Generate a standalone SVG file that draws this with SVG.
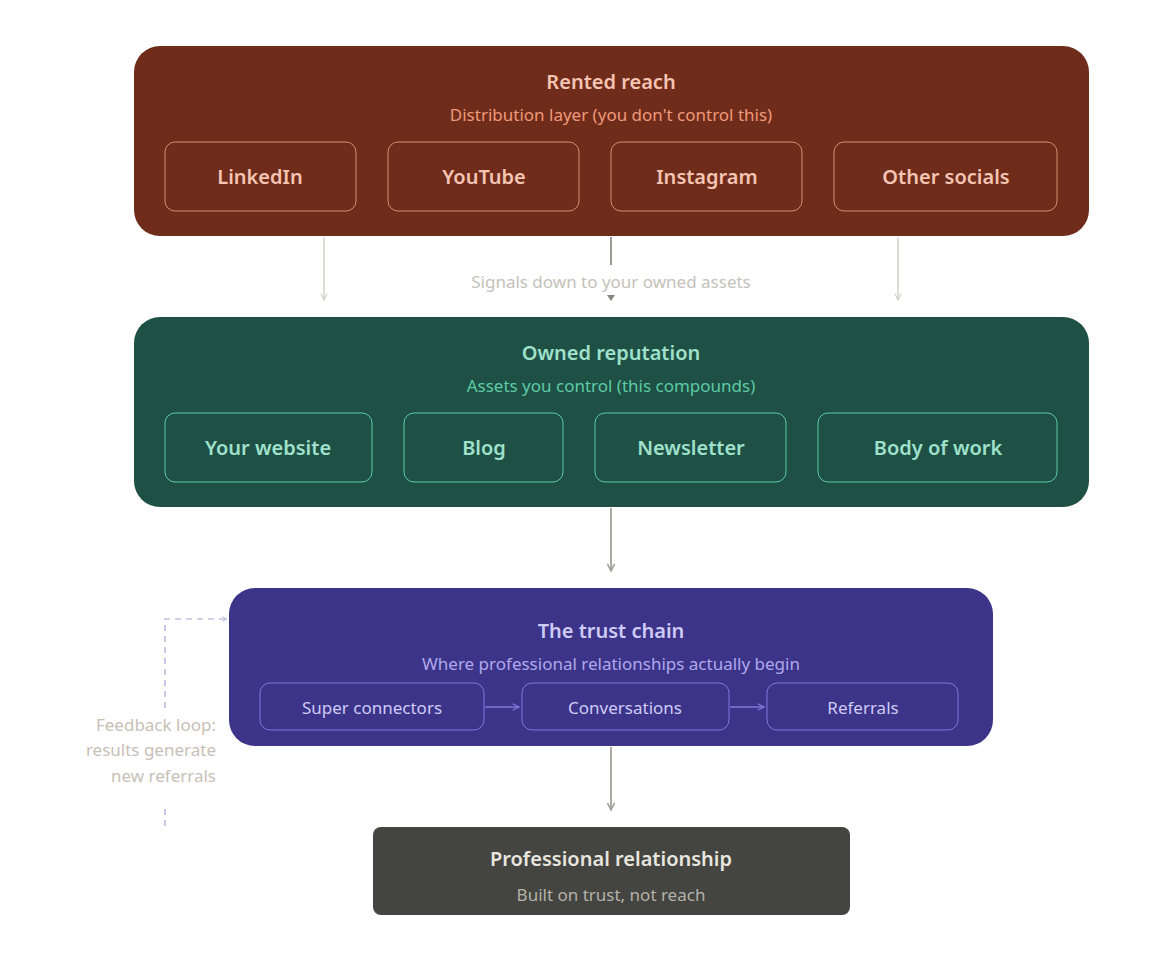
<svg xmlns="http://www.w3.org/2000/svg" width="1163" height="954" viewBox="0 0 1163 954">
<style>
text{font-family:"Noto Sans","Open Sans",sans-serif;text-anchor:middle}
.t{font-size:20px;font-weight:600}
.s{font-size:17px}
.b{font-size:20px;font-weight:600}
.p{font-size:17px}
.ib{fill:none;stroke-width:1}
.arr{stroke:#a3a199;stroke-width:1.8;fill:none}
</style>
<defs>
<marker id="ah" viewBox="0 0 10 10" refX="9" refY="5" markerWidth="9" markerHeight="9" orient="auto" markerUnits="userSpaceOnUse"><path d="M1 1L9 5L1 9" fill="none" stroke="#a3a199" stroke-width="1.8"/></marker>
<marker id="ahl" viewBox="0 0 10 10" refX="9" refY="5" markerWidth="8" markerHeight="8" orient="auto" markerUnits="userSpaceOnUse"><path d="M1 1L9 5L1 9" fill="none" stroke="#d3d1c7" stroke-width="1.5"/></marker>
<marker id="ahp" viewBox="0 0 10 10" refX="9" refY="5" markerWidth="8" markerHeight="8" orient="auto" markerUnits="userSpaceOnUse"><path d="M1 1L9 5L1 9" fill="none" stroke="#7f77dd" stroke-width="1.5"/></marker>
<marker id="ahd" viewBox="0 0 10 10" refX="9" refY="5" markerWidth="6" markerHeight="6" orient="auto" markerUnits="userSpaceOnUse"><path d="M1 1L9 5L1 9" fill="none" stroke="#a9a3d6" stroke-width="1.2"/></marker>
</defs>
<rect width="1163" height="954" fill="#ffffff"/>
<g id="rented">
<rect x="134" y="46" width="955" height="190" rx="26" fill="#6f2c1a"/>
<text x="611" y="89" class="t" fill="#f5c4b3">Rented reach</text>
<text x="611" y="121" class="s" fill="#f0997b">Distribution layer (you don't control this)</text>
<g stroke="#d98a6e" class="ib">
<rect x="165" y="142" width="191" height="69" rx="10"/>
<rect x="388" y="142" width="191" height="69" rx="10"/>
<rect x="611" y="142" width="191" height="69" rx="10"/>
<rect x="834" y="142" width="223" height="69" rx="10"/>
</g>
<g fill="#f5c4b3">
<text x="260" y="184" class="b">LinkedIn</text>
<text x="484" y="184" class="b">YouTube</text>
<text x="707" y="184" class="b">Instagram</text>
<text x="946" y="184" class="b">Other socials</text>
</g>
</g>
<g id="owned">
<rect x="134" y="317" width="955" height="190" rx="26" fill="#1e5045"/>
<text x="611" y="360" class="t" fill="#9fe1cb">Owned reputation</text>
<text x="611" y="392" class="s" fill="#5dcaa5">Assets you control (this compounds)</text>
<g stroke="#5dcaa5" class="ib">
<rect x="165" y="413" width="207" height="69" rx="10"/>
<rect x="404" y="413" width="159" height="69" rx="10"/>
<rect x="595" y="413" width="191" height="69" rx="10"/>
<rect x="818" y="413" width="239" height="69" rx="10"/>
</g>
<g fill="#9fe1cb">
<text x="268" y="455" class="b">Your website</text>
<text x="484" y="455" class="b">Blog</text>
<text x="691" y="455" class="b">Newsletter</text>
<text x="938" y="455" class="b">Body of work</text>
</g>
</g>
<g id="trust">
<rect x="229" y="588" width="764" height="158" rx="26" fill="#3c3489"/>
<text x="611" y="638" class="t" fill="#cecbf6">The trust chain</text>
<text x="611" y="670" class="s" fill="#afa9ec">Where professional relationships actually begin</text>
<g stroke="#7f77dd" class="ib">
<rect x="260" y="683" width="224" height="47" rx="10"/>
<rect x="522" y="683" width="207" height="47" rx="10"/>
<rect x="767" y="683" width="191" height="47" rx="10"/>
</g>
<g fill="#cecbf6">
<text x="372" y="714" class="p">Super connectors</text>
<text x="625" y="714" class="p">Conversations</text>
<text x="863" y="714" class="p">Referrals</text>
</g>
</g>
<g id="relationship">
<rect x="373" y="827" width="477" height="88" rx="8" fill="#444441"/>
<text x="611" y="866" class="t" fill="#e8e6de">Professional relationship</text>
<text x="611" y="901" class="s" fill="#b4b2a9">Built on trust, not reach</text>
</g>
<g id="connectors">
<line x1="324" y1="237" x2="324" y2="300" stroke="#d3d1c7" stroke-width="1.5" marker-end="url(#ahl)"/>
<line x1="898" y1="237" x2="898" y2="300" stroke="#d3d1c7" stroke-width="1.5" marker-end="url(#ahl)"/>
<line x1="611" y1="237" x2="611" y2="265" stroke="#9c9a92" stroke-width="2"/>
<path d="M607 295L615 295L611 301Z" fill="#888780"/>
<text x="611" y="288" class="s" fill="#c4c2ba">Signals down to your owned assets</text>
<line x1="611" y1="508" x2="611" y2="571" class="arr" marker-end="url(#ah)"/>
<line x1="611" y1="747" x2="611" y2="810" class="arr" marker-end="url(#ah)"/>
<line x1="485" y1="707" x2="519" y2="707" stroke="#7f77dd" stroke-width="1.5" marker-end="url(#ahp)"/>
<line x1="730" y1="707" x2="764" y2="707" stroke="#7f77dd" stroke-width="1.5" marker-end="url(#ahp)"/>
<path d="M165 826V806M165 708V619H227" fill="none" stroke="#a9a3d6" stroke-width="1.2" stroke-dasharray="6 5" marker-end="url(#ahd)"/>
<g fill="#c8c0b6" font-size="17">
<text x="216" y="731" style="text-anchor:end">Feedback loop:</text>
<text x="216" y="756" style="text-anchor:end">results generate</text>
<text x="216" y="782" style="text-anchor:end">new referrals</text>
</g>
</g>
</svg>
